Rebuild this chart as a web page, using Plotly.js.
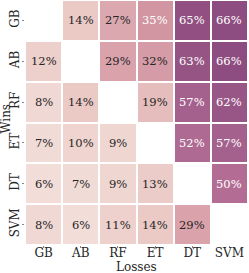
<!DOCTYPE html>
<html><head><meta charset="utf-8">
<script src="https://cdn.plot.ly/plotly-3.0.1.min.js"></script>
<style>html,body{margin:0;padding:0;background:#fff}#chart{width:249px;height:273px}</style>
</head><body><div id="chart"></div>
<script>
const losses = ["GB","AB","RF","ET","DT","SVM"];
const wins = ["GB","AB","RF","ET","DT","SVM"];
const rowGB  = [null, 14, 27, 35, 65, 66];
const rowAB  = [12, null, 29, 32, 63, 66];
const rowRF  = [8, 14, null, 19, 57, 62];
const rowET  = [7, 10, 9, null, 52, 57];
const rowDT  = [6, 7, 9, 13, null, 50];
const rowSVM = [8, 6, 11, 14, 29, null];
const z = [rowGB, rowAB, rowRF, rowET, rowDT, rowSVM];

const colorscale = [
  [0.00, "#f6e6e2"],
  [0.06, "#f2ddd8"],
  [0.14, "#ebcac6"],
  [0.28, "#dba5ae"],
  [0.35, "#d196a2"],
  [0.50, "#b36d95"],
  [0.57, "#a5618e"],
  [0.66, "#8e4d80"],
  [1.00, "#4a2a5a"]
];

const font = {family: "DejaVu Serif", size: 12, color: "#262626"};
const annotations = [];
z.forEach((row, i) => row.forEach((v, j) => {
  if (v === null) return;
  annotations.push({
    x: losses[j], y: wins[i], xref: "x", yref: "y",
    text: v + "%", showarrow: false,
    font: {family: "DejaVu Serif", size: 11.5, color: v >= 35 ? "#ffffff" : "#262626"}
  });
}));
annotations.push({text: "Losses", xref: "paper", yref: "paper", x: 0.5, y: 0, yshift: -22,
  xanchor: "center", yanchor: "middle", showarrow: false, font: font});
annotations.push({text: "Wins", xref: "paper", yref: "paper", x: 0, y: 0.515, xshift: -19,
  xanchor: "center", yanchor: "middle", textangle: -90, showarrow: false, font: font});

const trace = {
  type: "heatmap", x: losses, y: wins, z: z,
  zmin: 0, zmax: 100, colorscale: colorscale, showscale: false,
  xgap: 2, ygap: 2, hoverongaps: false
};

const layout = {
  width: 249, height: 273,
  margin: {l: 25, r: 1, t: 0, b: 28, pad: 0},
  paper_bgcolor: "#fff", plot_bgcolor: "#fff",
  font: font,
  xaxis: {type: "category", automargin: false, showgrid: false, zeroline: false, ticks: "outside", ticklen: 2, tickcolor: "#888",
          tickfont: font, ticklabelstandoff: -5},
  yaxis: {type: "category", automargin: false, autorange: "reversed", showgrid: false, zeroline: false, ticks: "outside", ticklen: 2, tickcolor: "#888",
          tickangle: -90, tickfont: font, ticklabelstandoff: -2},
  annotations: annotations
};
Plotly.newPlot("chart", [trace], layout, {displayModeBar: false, staticPlot: true});
</script></body></html>
